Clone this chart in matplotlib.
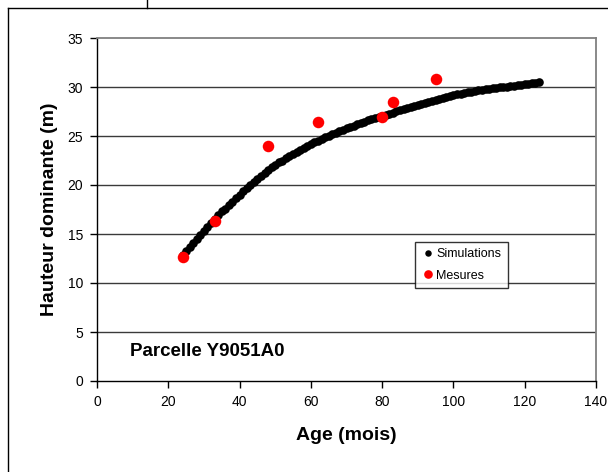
import matplotlib
matplotlib.use("Agg")
import matplotlib.pyplot as plt
from matplotlib.lines import Line2D

plt.rcParams['font.family'] = ['Liberation Sans', 'DejaVu Sans']

# Simulations (age in months, dominant height in m)
sim_age = list(range(24, 125))
sim_height = [
    12.9, 13.3, 13.7, 14.1, 14.5, 14.9, 15.3, 15.7, 16.1, 16.5,   # 24-33
    16.9, 17.3, 17.6, 18.0, 18.3, 18.7, 19.0, 19.4, 19.7, 20.0,   # 34-43
    20.3, 20.6, 20.9, 21.2, 21.5, 21.8, 22.0, 22.3, 22.5, 22.8,   # 44-53
    23.0, 23.2, 23.4, 23.6, 23.8, 24.0, 24.2, 24.4, 24.5, 24.7,   # 54-63
    24.9, 25.0, 25.2, 25.3, 25.5, 25.6, 25.8, 25.9, 26.0, 26.2,   # 64-73
    26.3, 26.4, 26.6, 26.7, 26.8, 26.9, 27.0, 27.13, 27.26, 27.39,  # 74-83
    27.51, 27.63, 27.75, 27.87, 27.98, 28.09, 28.2, 28.3, 28.4, 28.5,  # 84-93
    28.6, 28.7, 28.8, 28.9, 29.0, 29.1, 29.2, 29.25, 29.3, 29.4,  # 94-103
    29.45, 29.5, 29.6, 29.65, 29.7, 29.75, 29.8, 29.85, 29.9, 29.95,  # 104-113
    30.0, 30.05, 30.1, 30.15, 30.2, 30.25, 30.3, 30.35, 30.4, 30.45,  # 114-123
    30.5,  # 124
]

# Mesures
mes_age = [24, 33, 48, 62, 80, 83, 95]
mes_height = [12.7, 16.3, 24.0, 26.4, 26.9, 28.5, 30.8]

x_ticks = [0, 20, 40, 60, 80, 100, 120, 140]
y_ticks = [0, 5, 10, 15, 20, 25, 30, 35]

W, H = 608, 472
fig = plt.figure(figsize=(W / 100, H / 100), dpi=100)
ax = fig.add_axes([97 / W, 1 - 381 / H, (596 - 97) / W, (381 - 38) / H])

ax.set_xlim(0, 140)
ax.set_ylim(0, 35)
ax.set_xticks(x_ticks)
ax.set_yticks(y_ticks)

for y in y_ticks[1:-1]:
    ax.axhline(y, color='#3a3a3a', linewidth=1.0, zorder=1)

ax.plot(sim_age, sim_height, 'o', color='black', markersize=6.2,
        markeredgewidth=0, label='Simulations', zorder=3)
ax.plot(mes_age, mes_height, 'o', color='#ff0000', markersize=8.3,
        markeredgewidth=0, label='Mesures', zorder=4)

for side in ['top', 'right']:
    ax.spines[side].set_color('#808080')
    ax.spines[side].set_linewidth(1.3)
for side in ['left', 'bottom']:
    ax.spines[side].set_color('black')
    ax.spines[side].set_linewidth(1.0)

ax.tick_params(axis='both', direction='out', length=5, width=1,
               labelsize=10, colors='black', pad=5)

ax.set_xlabel('Age (mois)', fontsize=14, fontweight='bold', labelpad=13)
ax.set_ylabel('Hauteur dominante (m)', fontsize=14, fontweight='bold', labelpad=7)

ax.text(9.3, 3.0, 'Parcelle Y9051A0', fontsize=13.5, fontweight='bold',
        va='center', ha='left')

leg = ax.legend(loc='upper left', bbox_to_anchor=((415 - 97) / 499, 1 - (242 - 38) / 343),
                fontsize=9, frameon=True, fancybox=False, edgecolor='black',
                handletextpad=0.1, borderpad=0.5, labelspacing=0.75,
                handlelength=1.1, markerscale=0.75, borderaxespad=0)
leg.get_frame().set_linewidth(1.0)

# Outer frame lines
fig.add_artist(Line2D([8 / W, 8 / W], [0, 1 - 8 / H], color='black', linewidth=1.0,
                      transform=fig.transFigure))
fig.add_artist(Line2D([8 / W, 1], [1 - 8 / H, 1 - 8 / H], color='black', linewidth=1.0,
                      transform=fig.transFigure))
fig.add_artist(Line2D([147 / W, 147 / W], [1 - 8 / H, 1], color='black', linewidth=1.0,
                      transform=fig.transFigure))

fig.savefig('out.png', dpi=100)
